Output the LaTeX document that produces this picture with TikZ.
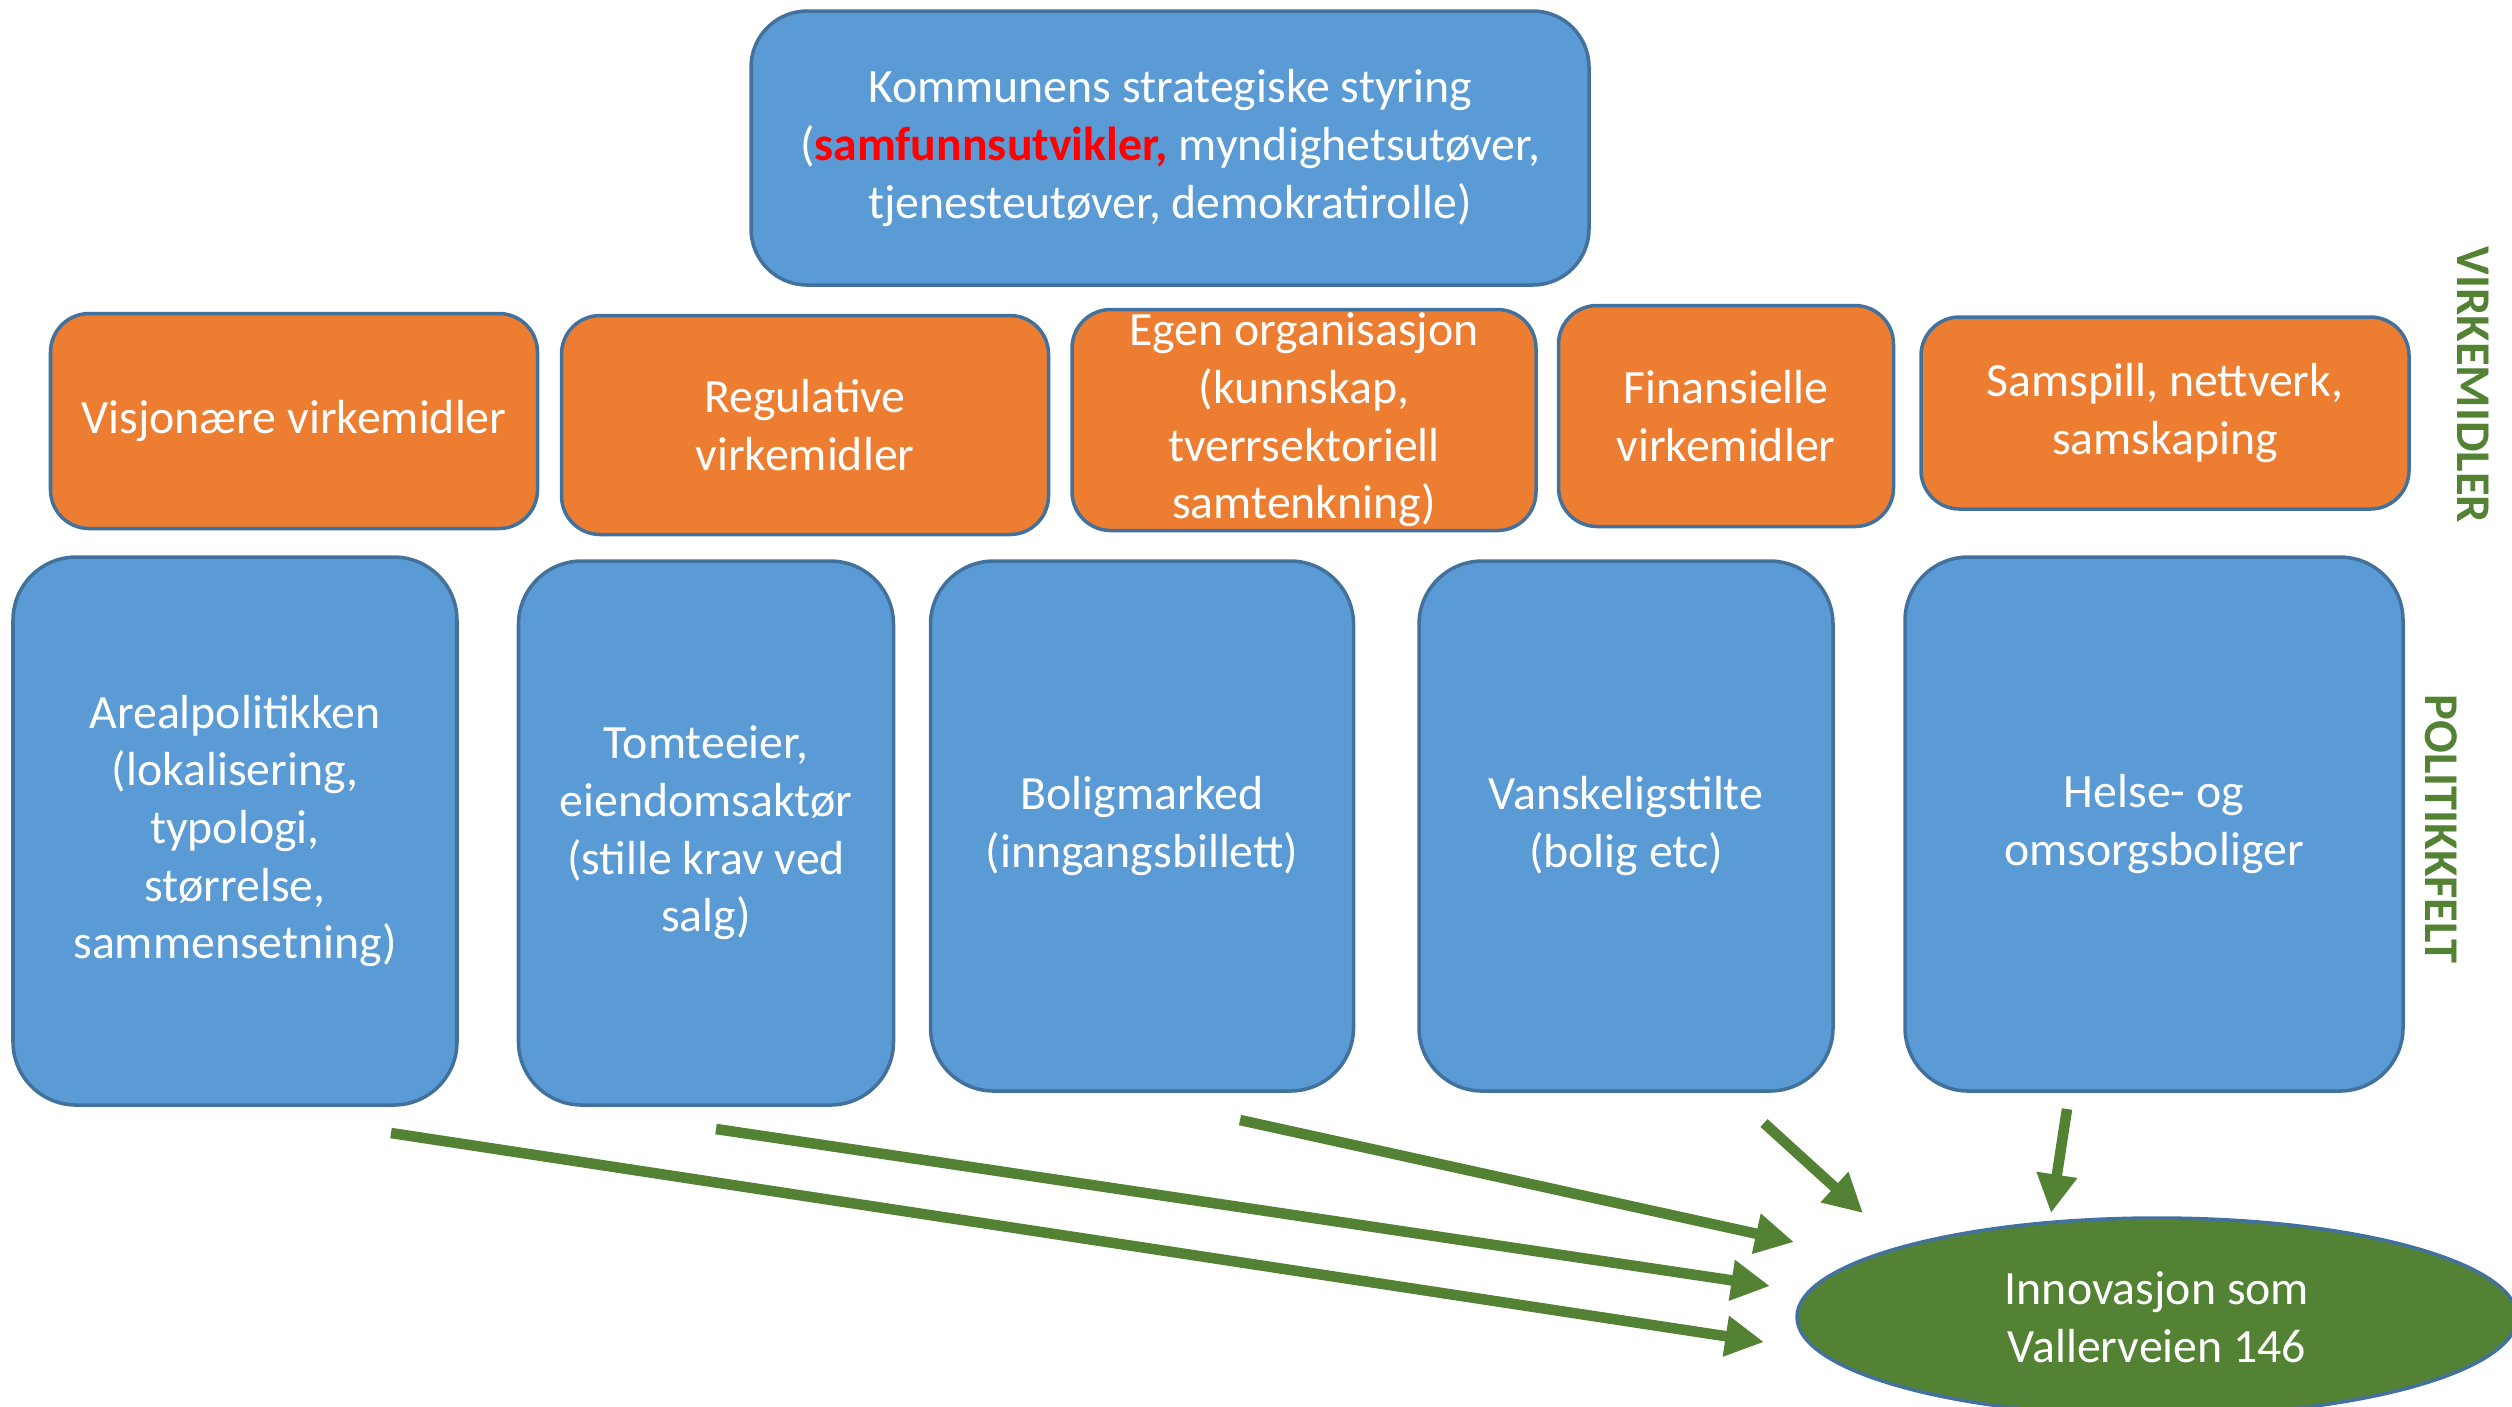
\documentclass[tikz,border=0pt]{standalone}
\usepackage{fontspec}
\setmainfont{Carlito}
\usetikzlibrary{arrows.meta,shapes.geometric}
\definecolor{boxblue}{HTML}{5B9BD5}
\definecolor{edgeblue}{HTML}{41719C}
\definecolor{boxorange}{HTML}{ED7D31}
\definecolor{darkgreen}{HTML}{548235}

\begin{document}
\begin{tikzpicture}[x=0.1mm, y=-0.1mm,
  every node/.style={inner sep=0pt, align=center, text=white, font=\fontsize{13.6}{16.4}\selectfont},
  topbox/.style={draw=edgeblue, line width=1pt, fill=boxblue, rounded corners=16pt},
  toolbox/.style={draw=edgeblue, line width=1pt, fill=boxorange, rounded corners=11pt},
  fieldbox/.style={draw=edgeblue, line width=1pt, fill=boxblue, rounded corners=18pt},
  sidelabel/.style={rotate=-90, text=darkgreen, font=\fontsize{13.8}{15}\selectfont\bfseries},
  effect/.style={darkgreen, line width=3pt, -{Triangle[width=11pt,length=11pt]}}]
\useasboundingbox (0,0) rectangle (2512,1406);

%steering
\node[topbox, minimum width=838*0.1mm, minimum height=274*0.1mm] (styring) at (1170,148)
  {Kommunens strategiske styring\\(\textcolor{red}{\textbf{samfunnsutvikler,}} myndighetsutøver,\\tjenesteutøver, demokratirolle)};

%instruments
\node[toolbox, minimum width=487*0.1mm, minimum height=215*0.1mm] (visjon) at (294,421) {Visjonære virkemidler};
\node[toolbox, minimum width=487*0.1mm, minimum height=219*0.1mm] (regul) at (805,425) {Regulative\\virkemidler};
\node[toolbox, minimum width=464*0.1mm, minimum height=221*0.1mm] (egenorg) at (1304,420) {Egen organisasjon\\(kunnskap,\\tverrsektoriell\\samtenkning)};
\node[toolbox, minimum width=335*0.1mm, minimum height=221*0.1mm] (finans) at (1726,416) {Finansielle\\virkemidler};
\node[toolbox, minimum width=488*0.1mm, minimum height=192*0.1mm] (samspill) at (2165,413) {Samspill, nettverk,\\samskaping};

%policy fields
\node[fieldbox, minimum width=444*0.1mm, minimum height=548*0.1mm] (areal) at (235,831) {Arealpolitikken\\(lokalisering,\\typologi,\\størrelse,\\sammensetning)};
\node[fieldbox, minimum width=375*0.1mm, minimum height=544*0.1mm] (tomt) at (706,833) {Tomteeier,\\eiendomsaktør\\(stille krav ved\\salg)};
\node[fieldbox, minimum width=423*0.1mm, minimum height=530*0.1mm] (bolig) at (1142,826) {Boligmarked\\(inngangsbillett)};
\node[fieldbox, minimum width=414*0.1mm, minimum height=530*0.1mm] (vansk) at (1626,826) {Vanskeligstilte\\(bolig etc)};
\node[fieldbox, minimum width=498*0.1mm, minimum height=534*0.1mm] (helse) at (2154,824) {Helse- og\\omsorgsboliger};

%side labels
\node[sidelabel] (virk) at (2473,385) {VIRKEMIDLER};
\node[sidelabel] (polit) at (2441,829) {POLITIKKFELT};

%goal
\node[draw=edgeblue, line width=1pt, fill=darkgreen, ellipse, minimum width=720*0.1mm, minimum height=198*0.1mm] (innov) at (2157,1317) {Innovasjon som\\Vallerveien 146};

%arrows
\coordinate (s1) at (391,1133);  \coordinate (e1) at (1764,1342);
\coordinate (s2) at (716,1129);  \coordinate (e2) at (1770,1286);
\coordinate (s3) at (1240,1120); \coordinate (e3) at (1794,1242);
\coordinate (s4) at (1764,1123); \coordinate (e4) at (1863,1213);
\coordinate (s5) at (2067,1109); \coordinate (e5) at (2051,1213);
\foreach \i in {1,...,5}
  \draw[effect] (s\i) -- (e\i);
\end{tikzpicture}
\end{document}
